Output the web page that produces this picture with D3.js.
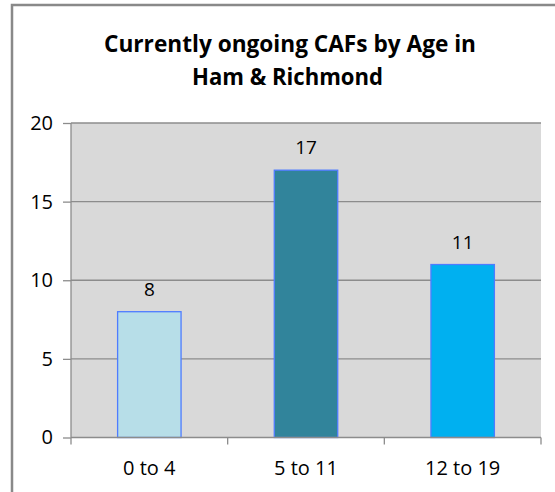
<!DOCTYPE html>
<html>
<head>
<meta charset="utf-8">
<script src="https://cdn.jsdelivr.net/npm/d3@7"></script>
<style>
  html, body { margin: 0; padding: 0; background: #ffffff; }
  svg { display: block; }
  text { font-family: "Open Sans", "Liberation Sans", sans-serif; fill: #000; }
</style>
</head>
<body>
<svg id="chart" width="555" height="492"></svg>
<script>
// Chart data
const categories = ["0 to 4", "5 to 11", "12 to 19"];
const values = [8, 17, 11];
const barColors = ["#b7dee8", "#31849b", "#00b0f0"];
const yTicks = [0, 5, 10, 15, 20];
const titleLines = ["Currently ongoing CAFs by Age in", "Ham & Richmond"];

const svg = d3.select("#chart");
const W = 555, H = 492;

// Outer chart frame (extends past the right and bottom edges)
svg.append("rect")
  .attr("x", 12).attr("y", 5)
  .attr("width", W).attr("height", H)
  .attr("fill", "#fff")
  .attr("stroke", "#898989")
  .attr("stroke-width", 2.5);

// Plot area
const plot = { left: 71, right: 541, top: 123, bottom: 437.5 };

const x = d3.scaleBand()
  .domain(categories)
  .range([plot.left, plot.right])
  .paddingInner(0.595)
  .paddingOuter(0.2975);

const y = d3.scaleLinear()
  .domain([0, 20])
  .range([plot.bottom, plot.top]);

svg.append("rect")
  .attr("x", plot.left).attr("y", plot.top)
  .attr("width", plot.right - plot.left)
  .attr("height", plot.bottom - plot.top)
  .attr("fill", "#d9d9d9");

// Horizontal gridlines
svg.append("g")
  .selectAll("line")
  .data(yTicks.filter(d => d > 0))
  .join("line")
  .attr("x1", plot.left).attr("x2", plot.right)
  .attr("y1", d => y(d)).attr("y2", d => y(d))
  .attr("stroke", "#8c8c8c")
  .attr("stroke-width", 1.3);

// Bars
svg.append("g")
  .selectAll("rect")
  .data(values)
  .join("rect")
  .attr("x", (d, i) => x(categories[i]))
  .attr("y", d => y(d))
  .attr("width", x.bandwidth())
  .attr("height", d => y(0) - y(d))
  .attr("fill", (d, i) => barColors[i])
  .attr("stroke", "#4f7cff")
  .attr("stroke-width", 1.3);

// Value labels
svg.append("g")
  .selectAll("text")
  .data(values)
  .join("text")
  .attr("x", (d, i) => x(categories[i]) + x.bandwidth() / 2)
  .attr("y", d => y(d) - 16)
  .attr("text-anchor", "middle")
  .attr("font-size", 19)
  .text(d => d);

// Y axis
const yAxis = svg.append("g")
  .attr("transform", `translate(${plot.left},0)`)
  .call(d3.axisLeft(y).tickValues(yTicks).tickSize(8).tickPadding(10));
yAxis.select(".domain").attr("stroke", "#8c8c8c").attr("stroke-width", 1.3)
  .attr("d", `M0,${plot.top}V${plot.bottom}`);
yAxis.selectAll(".tick line").attr("stroke", "#8c8c8c").attr("stroke-width", 1.3);
yAxis.selectAll(".tick text")
  .attr("font-size", 20)
  .attr("font-family", "'Open Sans', 'Liberation Sans', sans-serif")
  .attr("fill", "#000");

// X axis: ticks sit on category boundaries
const xAxisG = svg.append("g");
xAxisG.append("line")
  .attr("x1", plot.left).attr("x2", plot.right)
  .attr("y1", plot.bottom).attr("y2", plot.bottom)
  .attr("stroke", "#8c8c8c").attr("stroke-width", 1.3);
const step = x.step();
const boundaries = d3.range(categories.length + 1).map(i => plot.left + i * step);
xAxisG.selectAll("line.tk")
  .data(boundaries)
  .join("line")
  .attr("class", "tk")
  .attr("x1", d => d).attr("x2", d => d)
  .attr("y1", plot.bottom).attr("y2", plot.bottom + 7)
  .attr("stroke", "#8c8c8c").attr("stroke-width", 1.3);
xAxisG.selectAll("text")
  .data(categories)
  .join("text")
  .attr("x", d => x(d) + x.bandwidth() / 2)
  .attr("y", 475)
  .attr("text-anchor", "middle")
  .attr("font-size", 20)
  .text(d => d);

// Title
const titleLens = [372, 191];
svg.append("g")
  .selectAll("text")
  .data(titleLines)
  .join("text")
  .attr("x", (d, i) => i === 0 ? 290 : 287.5)
  .attr("y", (d, i) => i === 0 ? 52 : 85)
  .attr("text-anchor", "middle")
  .attr("font-size", 24)
  .attr("font-weight", "bold")
  .attr("textLength", (d, i) => titleLens[i])
  .attr("lengthAdjust", "spacingAndGlyphs")
  .text(d => d);
</script>
</body>
</html>
